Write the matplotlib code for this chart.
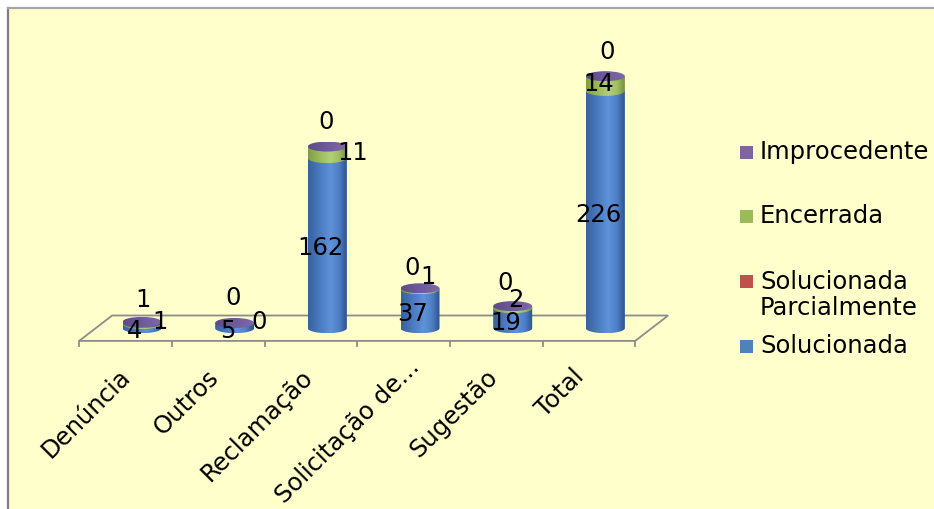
import numpy as np
import matplotlib
matplotlib.use("Agg")
import matplotlib.pyplot as plt
from matplotlib.patches import Polygon, Ellipse, Rectangle
from matplotlib.lines import Line2D
from matplotlib.colors import LinearSegmentedColormap

# ---- data -------------------------------------------------------------
categories = ["Denúncia", "Outros", "Reclamação", "Solicitação de...", "Sugestão", "Total"]
solucionada = [4, 5, 162, 37, 19, 226]
solucionada_parcialmente = [None, None, None, None, None, None]
encerrada = [1, 0, 11, 1, 2, 14]
improcedente = [1, 0, 0, 0, 0, 0]
legend_names = ["Improcedente", "Encerrada", "Solucionada\nParcialmente", "Solucionada"]

# ---- canvas -----------------------------------------------------------
W, H = 934, 509
fig = plt.figure(figsize=(W / 100, H / 100), dpi=100)
fig.patch.set_facecolor("white")


def fx(px):
    return px / W


def fy(py):
    return 1 - py / H


fig.add_artist(Rectangle((fx(8), 0), 1 - fx(8), fy(8), transform=fig.transFigure,
                         facecolor="#FFFFCC", edgecolor="none", zorder=0))
fig.add_artist(Line2D([fx(8), fx(8)], [0, fy(8)], transform=fig.transFigure,
                      color="#7F7F7F", lw=1.6))
fig.add_artist(Line2D([fx(8), 1], [fy(8), fy(8)], transform=fig.transFigure,
                      color="#A6A6A6", lw=1.6))

# plot scale: one category per 92.67 px, one unit per 1.05 px
CAT_PX, UNIT_PX = 92.67, 1.05
X0_PX, BASE_PX = 142.0, 328.2
ax = fig.add_axes([0, 0, 1, 1])
ax.set_axis_off()
ax.patch.set_visible(False)
XLIM = (-X0_PX / CAT_PX, (W - X0_PX) / CAT_PX)
YLIM = ((BASE_PX - H) / UNIT_PX, BASE_PX / UNIT_PX)

DX, DY = 16.5 / CAT_PX, 12.7 / UNIT_PX     # half depth of the floor
RX, RY = 19.5 / CAT_PX, 5.0 / UNIT_PX      # cylinder ellipse radii
n = len(categories)

# ---- floor ------------------------------------------------------------
GRID = "#8C8C8C"
floor = [(-0.5 - DX, -DY), (n - 0.5 - DX, -DY), (n - 0.5 + DX, DY), (-0.5 + DX, DY)]
ax.add_patch(Polygon(floor, closed=True, fill=False, edgecolor=GRID, lw=1.3, zorder=1))
tick_len = 5.5 / UNIT_PX
for k in range(n + 1):
    x = k - 0.5 - DX
    ax.plot([x, x], [-DY, -DY - tick_len], color=GRID, lw=1.3, zorder=1)

# ---- cylinders --------------------------------------------------------
cm_blue = LinearSegmentedColormap.from_list(
    "blue", [(0, "#3760A0"), (0.3, "#4A7AC0"), (0.58, "#5F92D8"), (0.8, "#4D7FC6"), (1, "#2B528C")])
cm_green = LinearSegmentedColormap.from_list(
    "green", [(0, "#809D46"), (0.3, "#9BBB59"), (0.58, "#B4CF78"), (0.8, "#A0BF60"), (1, "#738E3E")])
cm_purple = LinearSegmentedColormap.from_list(
    "purple", [(0, "#5E4A88"), (0.5, "#6F5A9B"), (1, "#7E68A8")])
cm_purple_side = LinearSegmentedColormap.from_list(
    "purple_side", [(0, "#5B4786"), (0.55, "#8470AE"), (1, "#4E3D75")])
grad = np.linspace(0, 1, 256)[None, :]


def shaded(patch, cmap, x0, x1, y0, y1, z):
    ax.add_patch(patch)
    im = ax.imshow(grad, cmap=cmap, extent=(x0, x1, y0, y1), aspect="auto",
                   origin="lower", zorder=z, interpolation="bilinear")
    im.set_clip_path(patch)


def body(xc, y0, y1, cmap, z):
    t = np.linspace(np.pi, 2 * np.pi, 80)
    pts = np.column_stack([xc + RX * np.cos(t), y0 + RY * np.sin(t)])
    pts = np.vstack([pts, [[xc + RX, y1], [xc - RX, y1]]])
    poly = Polygon(pts, closed=True, facecolor="none", edgecolor="none", zorder=z)
    shaded(poly, cmap, xc - RX, xc + RX, y0 - RY, y1, z)


def cap(xc, y, cmap, z):
    e = Ellipse((xc, y), 2 * RX, 2 * RY, facecolor="none", edgecolor="none", zorder=z)
    shaded(e, cmap, xc - RX, xc + RX, y - RY, y + RY, z)


for i in range(n):
    s, e_, p = solucionada[i], encerrada[i], improcedente[i]
    z = 3 + i * 0.01
    body(i, 0, s, cm_blue, z)
    if e_:
        body(i, s, s + e_, cm_green, z + 0.001)
    if p:
        body(i, s + e_, s + e_ + p, cm_purple_side, z + 0.002)
    cap(i, s + e_ + p, cm_purple, z + 0.003)

# ---- value labels -----------------------------------------------------
FS = 17.5
enc_off = [(18, 1), (24, 1), (25, -6), (8, 11), (3, 6), (-7, -8)]
imp_off = [(1, 22), (-2, 25), (-1, 25), (-8, 20), (-8, 23), (2, 24)]
for i in range(n):
    s, e_, p = solucionada[i], encerrada[i], improcedente[i]
    ax.annotate(str(s), xy=(i, s / 2), xytext=(-7, -5), textcoords="offset pixels",
                ha="center", va="center", fontsize=FS, zorder=10)
    ax.annotate(str(e_), xy=(i, s + e_), xytext=enc_off[i], textcoords="offset pixels",
                ha="center", va="center", fontsize=FS, zorder=10)
    ax.annotate(str(p), xy=(i, s + e_ + p), xytext=imp_off[i], textcoords="offset pixels",
                ha="center", va="center", fontsize=FS, zorder=10)

# ---- category labels --------------------------------------------------
lab_off = [(10, -24), (5, -24), (7, -24), (21, -14), (6, -24), (0, -24)]
for i, c in enumerate(categories):
    ax.annotate(c, xy=(i - DX, -DY), xytext=lab_off[i], textcoords="offset pixels",
                rotation=45, ha="right", va="top", fontsize=FS)

ax.set_xlim(*XLIM)
ax.set_ylim(*YLIM)

# ---- legend -----------------------------------------------------------
leg_colors = ["#8064A2", "#9BBB59", "#C0504D", "#4F81BD"]
leg_y = [152, 216, 281, 346]
for name, col, y in zip(legend_names, leg_colors, leg_y):
    fig.add_artist(Rectangle((fx(740), fy(y + 6.5)), 13 / W, 13 / H,
                             transform=fig.transFigure, facecolor=col, edgecolor="none"))
    ty = y + 14 if "\n" in name else y
    fig.text(fx(760), fy(ty), name, ha="left", va="center", fontsize=FS, linespacing=1.15)

fig.savefig("out.png", dpi=100)
